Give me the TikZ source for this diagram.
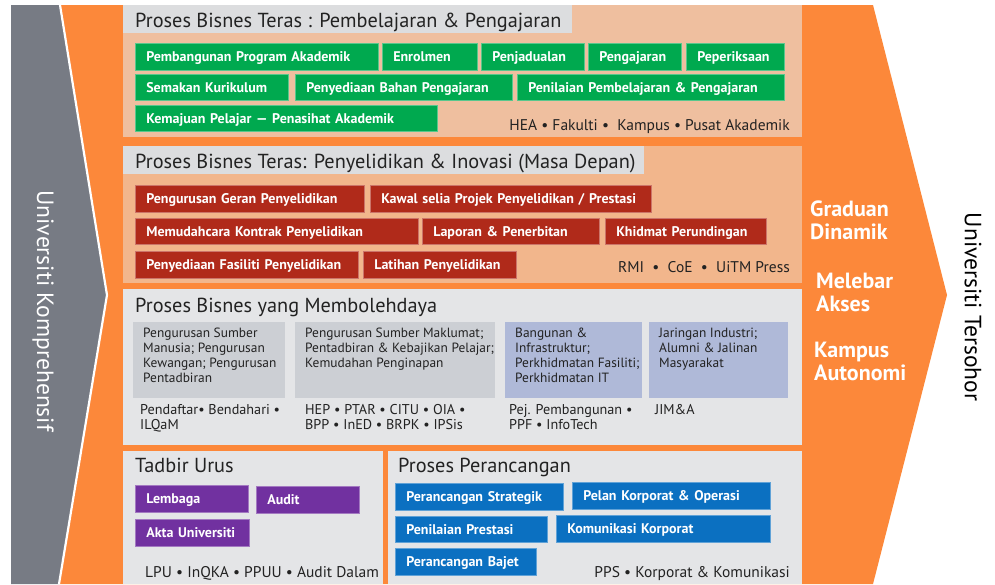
\documentclass[tikz,border=0pt]{standalone}
\usepackage{fontspec}
\setmainfont{PT Sans}
\definecolor{org}{HTML}{FC883A}
\definecolor{chev}{HTML}{777B84}
\definecolor{sala}{HTML}{EFBF9F}
\definecolor{salb}{HTML}{F2B68C}
\definecolor{ttlg}{HTML}{DCDDDF}
\definecolor{pgrey}{HTML}{E4E5E7}
\definecolor{sgrey}{HTML}{CCCFD4}
\definecolor{sblue}{HTML}{AFB9D8}
\definecolor{grn}{HTML}{00A94F}
\definecolor{rdd}{HTML}{B02A1A}
\definecolor{pur}{HTML}{7131A0}
\definecolor{blu}{HTML}{0B70C1}
\definecolor{ink}{HTML}{222222}
\newcommand\pbox[7]{%
  \pgfmathsetmacro\pbw{#5-#3}\pgfmathsetmacro\pbh{#6-#4}\pgfmathsetmacro\pbt{#5-#3-22}%
  \node[#2,anchor=north west,minimum width=\pbw pt,minimum height=\pbh pt,text width=\pbt pt] (#1) at (#3,#4) {#7};}
\newcommand\subbx[6]{%
  \pgfmathsetmacro\pbw{#5-#3}\pgfmathsetmacro\pbh{#6-#4}%
  \node[#2,anchor=north west,minimum width=\pbw pt,minimum height=\pbh pt,inner sep=0pt] (#1) at (#3,#4) {};}
\begin{document}
\begin{tikzpicture}[x=1pt,y=-1pt,
  lbl/.style={inner xsep=11pt, inner ysep=0pt, align=left, text=white,
    font=\fontsize{14}{16}\selectfont\bfseries, text height=12pt, text depth=2pt, line width=0.6pt},
  gbox/.style={lbl, fill=grn, draw=grn!65!white},
  rbox/.style={lbl, fill=rdd, draw=rdd!65!white},
  pbx/.style={lbl, fill=pur, draw=pur!65!white},
  bbox/.style={lbl, fill=blu, draw=blu!65!white},
  gsub/.style={fill=sgrey},
  bsub/.style={fill=sblue},
  ttl/.style={anchor=base west, inner sep=0pt, text=ink, font=\fontsize{20.3}{23}\selectfont},
  foot/.style={anchor=base east, inner sep=0pt, text=ink, font=\fontsize{15.5}{18}\selectfont},
  subt/.style={anchor=north west, inner sep=0pt, align=left, text=ink, font=\fontsize{13.4}{15}\selectfont},
  undt/.style={anchor=north west, inner sep=0pt, align=left, text=ink, font=\fontsize{14.2}{15.5}\selectfont},
  side/.style={anchor=north west, inner sep=0pt, align=left, text=white, font=\fontsize{22}{23}\selectfont\bfseries},
  vert/.style={rotate=-90, inner sep=0pt, font=\fontsize{23.5}{26}\selectfont},
]
\useasboundingbox (0,0) rectangle (995,584);
\fill[white] (0,0) rectangle (995,584);
% chevrons
\fill[chev] (11,5) -- (60,5) -- (107,295) -- (59,584) -- (11,584) -- cycle;
\fill[org] (60,5) -- (873,5) -- (947,295) -- (873,584) -- (59,584) -- (107,295) -- cycle;
\draw[white, line width=2.2pt] (60,5) -- (107,295) -- (59,584);
% panels
\fill[sala] (123,5) rectangle (802,137);
\fill[ttlg] (123,5) rectangle (572,33);
\fill[salb] (123,146) rectangle (802,283);
\fill[ttlg] (123,146) rectangle (644,174);
\fill[pgrey] (123,289) rectangle (802,445);
\fill[pgrey] (123,451) rectangle (383,584);
\fill[pgrey] (388,451) rectangle (802,584);
% titles
\node[ttl] (t1) at (135,27) {Proses Bisnes Teras : Pembelajaran \& Pengajaran};
\node[ttl] (t2) at (135,168) {Proses Bisnes Teras: Penyelidikan \& Inovasi (Masa Depan)};
\node[ttl] (t3) at (135,312) {Proses Bisnes yang Membolehdaya};
\node[ttl] (t4) at (135,472) {Tadbir Urus};
\node[ttl] (t5) at (398,472) {Proses Perancangan};
% green
\pbox{g1}{gbox}{135}{43}{378}{70}{Pembangunan Program Akademik}
\pbox{g2}{gbox}{382}{43}{477}{70}{Enrolmen}
\pbox{g3}{gbox}{481}{43}{584}{70}{Penjadualan}
\pbox{g4}{gbox}{588}{43}{681}{70}{Pengajaran}
\pbox{g5}{gbox}{686}{43}{784}{70}{Peperiksaan}
\pbox{g6}{gbox}{135}{74}{288}{100}{Semakan Kurikulum}
\pbox{g7}{gbox}{295}{74}{512}{100}{Penyediaan Bahan Pengajaran}
\pbox{g8}{gbox}{517}{74}{784}{100}{Penilaian Pembelajaran \& Pengajaran}
\pbox{g9}{gbox}{135}{105}{437}{131}{Kemajuan Pelajar — Penasihat Akademik}
\node[foot] (f1) at (790,130) {HEA • Fakulti •\ \ Kampus • Pusat Akademik};
% red
\pbox{r1}{rbox}{135}{185}{364}{212}{Pengurusan Geran Penyelidikan}
\pbox{r2}{rbox}{370}{185}{651}{212}{Kawal selia Projek Penyelidikan / Prestasi}
\pbox{r3}{rbox}{135}{218}{418}{244}{Memudahcara Kontrak Penyelidikan}
\pbox{r4}{rbox}{422}{218}{599}{244}{Laporan \& Penerbitan}
\pbox{r5}{rbox}{605}{218}{766}{244}{Khidmat Perundingan}
\pbox{r6}{rbox}{135}{251}{358}{278}{Penyediaan Fasiliti Penyelidikan}
\pbox{r7}{rbox}{363}{251}{516}{278}{Latihan Penyelidikan}
\node[foot] (f2) at (790,272) {RMI\ \ •\ \ CoE\ \ •\ \ UiTM Press};
% enabling
\subbx{sa}{gsub}{133}{322}{285}{398}
\subbx{sb}{gsub}{295}{322}{495}{398}
\subbx{sc}{bsub}{505}{322}{642}{398}
\subbx{sd}{bsub}{649}{322}{788}{398}
\node[subt] (sat) at (143,328) {Pengurusan Sumber\\Manusia; Pengurusan\\Kewangan; Pengurusan\\Pentadbiran};
\node[subt] (sbt) at (305,328) {Pengurusan Sumber Maklumat;\\Pentadbiran \& Kebajikan Pelajar;\\Kemudahan Penginapan};
\node[subt] (sct) at (515,328) {Bangunan \&\\Infrastruktur;\\Perkhidmatan Fasiliti;\\Perkhidmatan IT};
\node[subt] (sdt) at (659,328) {Jaringan Industri;\\Alumni \& Jalinan\\Masyarakat};
\node[undt] (ua) at (140,404) {Pendaftar• Bendahari •\\ILQaM};
\node[undt] (ub) at (305,404) {HEP • PTAR • CITU • OIA •\\BPP • InED • BRPK • IPSis};
\node[undt] (uc) at (509,404) {Pej. Pembangunan •\\PPF\ • InfoTech};
\node[undt] (ud) at (655,404) {JIM\&A};
% governance
\pbox{p1}{pbx}{135}{485}{248}{512}{Lembaga}
\pbox{p2}{pbx}{256}{486}{359}{513}{Audit}
\pbox{p3}{pbx}{135}{519}{249}{546}{Akta Universiti}
\node[anchor=base west, inner sep=0pt, text=ink, font=\fontsize{15.5}{18}\selectfont] (f4) at (145,577) {LPU • InQKA • PPUU • Audit Dalam};
% planning
\pbox{b1}{bbox}{395}{483}{563}{510}{Perancangan Strategik}
\pbox{b2}{bbox}{572}{482}{770}{509}{Pelan Korporat \& Operasi}
\pbox{b3}{bbox}{395}{516}{547}{542}{Penilaian Prestasi}
\pbox{b4}{bbox}{556}{515}{770}{542}{Komunikasi Korporat}
\pbox{b5}{bbox}{395}{548}{536}{575}{Perancangan Bajet}
\node[foot] (f5) at (790,577) {PPS • Korporat \& Komunikasi};
% side texts
\node[side] (s1) at (810,201) {Graduan\\Dinamik};
\node[side] (s2) at (816,273) {Melebar\\Akses};
\node[side] (s3) at (814,342) {Kampus\\Autonomi};
\node[vert, text=white] (uk) at (43,311) {Universiti Komprehensif};
\node[vert, text=black] (ut) at (973,307) {Universiti Tersohor};
\end{tikzpicture}
\end{document}
